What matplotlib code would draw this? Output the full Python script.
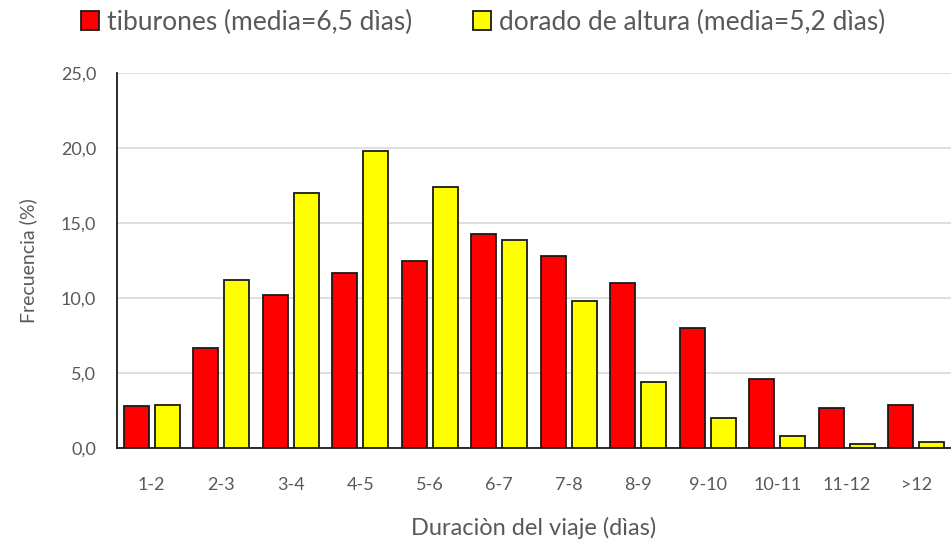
import matplotlib
matplotlib.use("Agg")
import matplotlib.pyplot as plt
import numpy as np
from matplotlib.patches import Patch

categories = ["1-2", "2-3", "3-4", "4-5", "5-6", "6-7", "7-8", "8-9", "9-10", "10-11", "11-12", ">12"]
tiburones = [2.8, 6.7, 10.2, 11.7, 12.5, 14.3, 12.8, 11.0, 8.0, 4.6, 2.7, 2.9]
dorado = [2.9, 11.2, 17.0, 19.8, 17.4, 13.9, 9.8, 4.4, 2.0, 0.8, 0.3, 0.4]
yticks = [0, 5, 10, 15, 20, 25]
ytick_labels = ["0,0", "5,0", "10,0", "15,0", "20,0", "25,0"]
label_tib = "tiburones (media=6,5 dìas)"
label_dor = "dorado de altura (media=5,2 dìas)"

plt.rcParams['font.family'] = ['Lato', 'DejaVu Sans']
txt = '#595959'

fig = plt.figure(figsize=(9.51, 5.41), dpi=100)
ax = fig.add_axes([117/951, 1-448/541, 1-117/951, (448-73)/541])

x = np.arange(len(categories))
w = 0.36
off = 0.22
ax.bar(x - off, tiburones, w, color='#ff0000', edgecolor='#1a1a1a', linewidth=1.3, zorder=3)
ax.bar(x + off, dorado, w, color='#ffff00', edgecolor='#1a1a1a', linewidth=1.3, zorder=3)

ax.set_xlim(-0.5, len(categories) - 0.5)
ax.set_ylim(0, 25)
ax.set_yticks(yticks)
ax.set_yticklabels(ytick_labels)
ax.set_xticks(x)
ax.set_xticklabels(categories)
ax.tick_params(axis='both', length=0, colors=txt, labelsize=13)
ax.tick_params(axis='x', pad=21)
ax.tick_params(axis='y', pad=15)
ax.yaxis.grid(True, color='#d9d9d9', linewidth=1.2, zorder=0)
ax.set_axisbelow(True)
for s in ['top', 'right']:
    ax.spines[s].set_visible(False)
ax.spines['left'].set_color('#1a1a1a')
ax.spines['left'].set_linewidth(1.3)
ax.spines['bottom'].set_color('#1a1a1a')
ax.spines['bottom'].set_linewidth(1.3)

ax.set_ylabel("Frecuencia (%)", color=txt, fontsize=14, labelpad=17)
ax.set_xlabel("Duraciòn del viaje (dìas)", color=txt, fontsize=17, labelpad=17)

handles = [Patch(facecolor='#ff0000', edgecolor='#1a1a1a', linewidth=1.3, label=label_tib),
           Patch(facecolor='#ffff00', edgecolor='#1a1a1a', linewidth=1.3, label=label_dor)]
fig.legend(handles=handles, loc='center', bbox_to_anchor=(0.508, 1-22/541), ncol=2,
           frameon=False, fontsize=19, labelcolor=txt, handlelength=0.7, handleheight=0.7,
           handletextpad=0.3, columnspacing=2.3)

fig.savefig("out.png", dpi=100)
